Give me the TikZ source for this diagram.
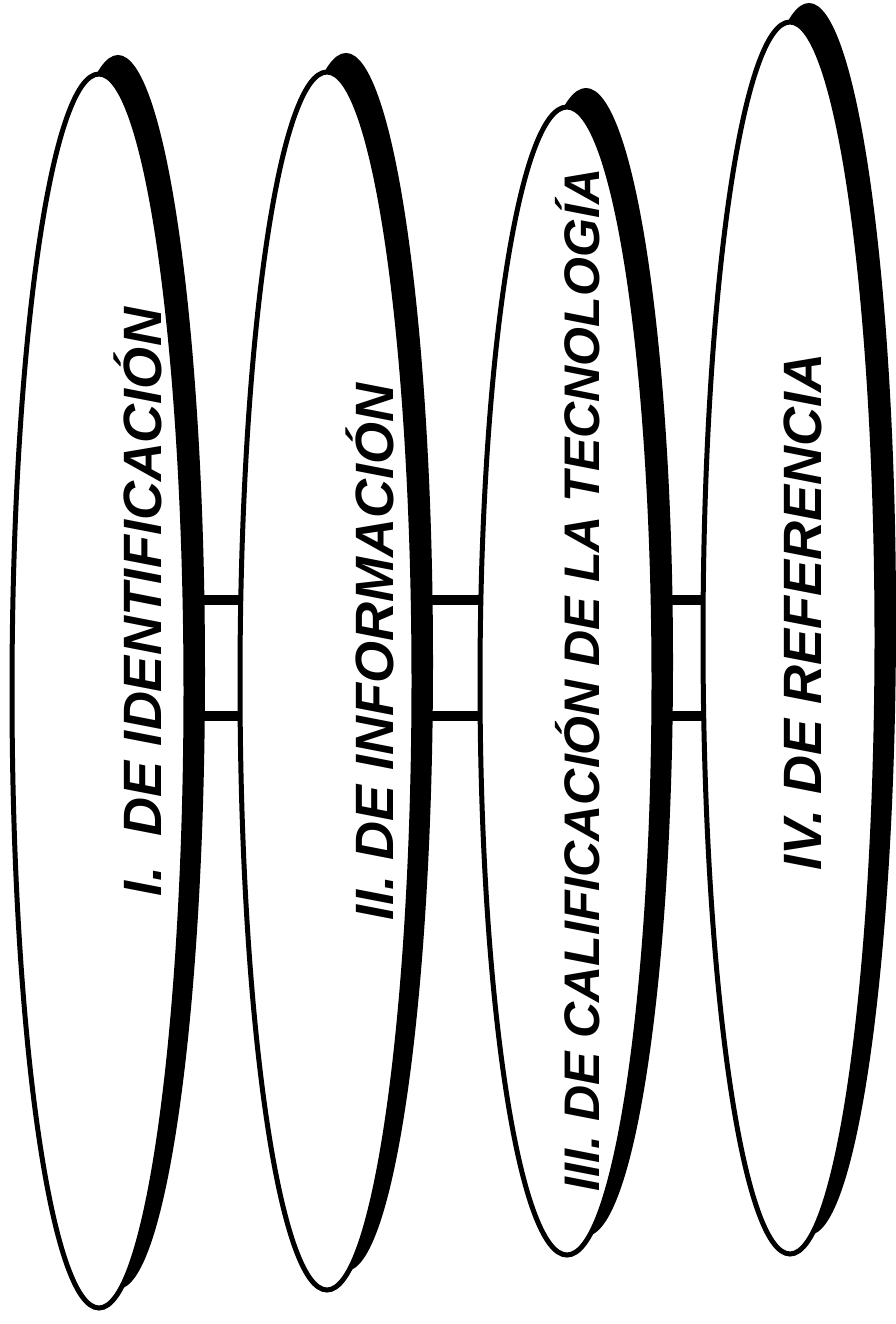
\documentclass[tikz,border=0pt]{standalone}
\usepackage{fontspec}
\setmainfont{Liberation Sans}
\usetikzlibrary{shapes.geometric, positioning, backgrounds, shadows}

\begin{document}
\begin{tikzpicture}[
    x=1pt, y=-1pt,
    phase/.style={ellipse, draw=black, fill=white, line width=5pt, minimum width=174pt, inner sep=0pt,
        general shadow={shadow xshift=19pt, shadow yshift=19pt, fill=black}},
    heading/.style={rotate=90, anchor=base, font=\fontsize{54}{60}\selectfont\bfseries\itshape},
    rung/.style={line width=10pt}
]
\useasboundingbox (0,0) rectangle (895,1324);

\node[phase, minimum height=1234pt] (ident) at (99,691) {};
\node[phase, minimum height=1218pt] (inform) at (327,681) {};
\node[phase, minimum height=1148pt] (calif) at (567,681) {};
\node[phase, minimum height=1232pt] (refer) at (790,638) {};

\node[heading] (identtxt) at (161,602) {I.\ \ DE IDENTIFICACIÓN};
\node[heading] (informtxt) at (393,652) {II. DE INFORMACIÓN};
\node[heading, font=\fontsize{50}{60}\selectfont\bfseries\itshape] (califtxt) at (599,680) {III. DE CALIFICACIÓN DE LA TECNOLOGÍA};
\node[heading] (refertxt) at (821,612) {IV. DE REFERENCIA};

\coordinate (upper) at (0,600);
\coordinate (lower) at (0,716);

\begin{scope}[on background layer]
    \foreach \a/\b in {ident/inform, inform/calif, calif/refer} {
        \draw[rung] (\a.center |- upper) -- (\b.center |- upper);
        \draw[rung] (\a.center |- lower) -- (\b.center |- lower);
    }
\end{scope}

\end{tikzpicture}
\end{document}
